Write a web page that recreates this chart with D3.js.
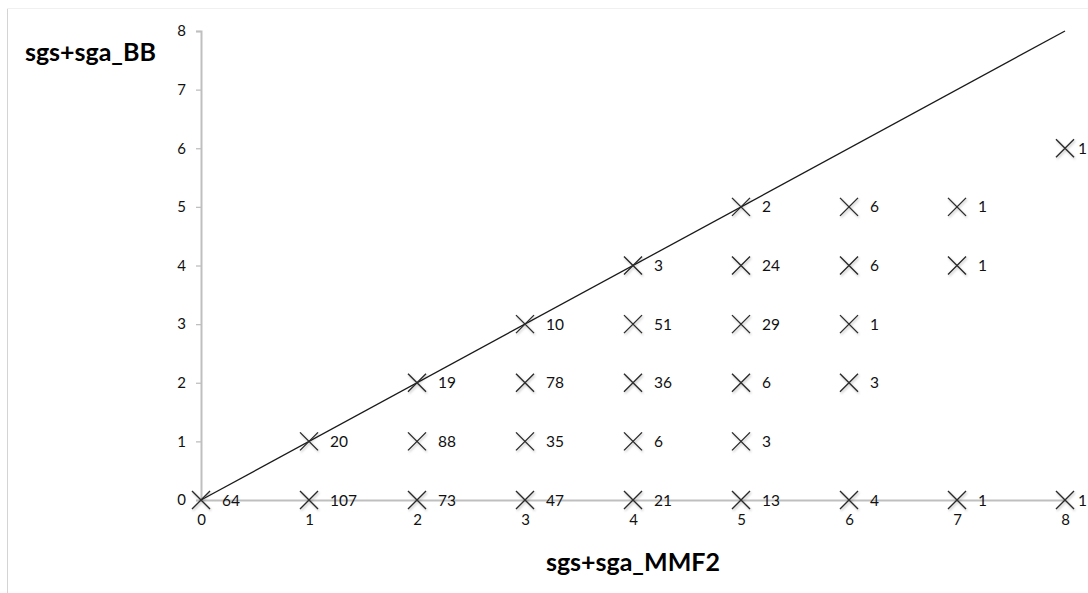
<!DOCTYPE html>
<html><head><meta charset="utf-8">
<script src="https://cdn.jsdelivr.net/npm/d3@7"></script>
<style>body{margin:0;background:#fff}svg{display:block}text{font-family:Lato,"Open Sans",sans-serif}</style>
</head><body><svg id="c" width="1088" height="593"></svg>
<script>
const xVals = [0,1,2,3,4,5,6,7,8, 1,2,3,4,5, 2,3,4,5,6, 3,4,5,6, 4,5,6,7, 5,6,7, 8];
const yVals = [0,0,0,0,0,0,0,0,0, 1,1,1,1,1, 2,2,2,2,2, 3,3,3,3, 4,4,4,4, 5,5,5, 6];
const counts = [64,107,73,47,21,13,4,1,1, 20,88,35,6,3, 19,78,36,6,3, 10,51,29,1, 3,24,6,1, 2,6,1, 1];
const xTicks = [0,1,2,3,4,5,6,7,8];
const yTicks = [0,1,2,3,4,5,6,7,8];
const xTitle = "sgs+sga_MMF2";
const yTitle = "sgs+sga_BB";

const svg = d3.select("#c");
const x = d3.scaleLinear().domain([0,8]).range([201,1065]);
const y = d3.scaleLinear().domain([0,8]).range([500,31]);

// frame
svg.append("line").attr("x1",7.5).attr("x2",7.5).attr("y1",8).attr("y2",593).attr("stroke","#d4d4d4").attr("stroke-width",1);
svg.append("line").attr("x1",7).attr("x2",1088).attr("y1",8.5).attr("y2",8.5).attr("stroke","#f0f0f0").attr("stroke-width",1);

// y axis
const ya = svg.append("g").attr("transform","translate(201,0)")
  .call(d3.axisLeft(y).tickValues(yTicks).tickSize(5).tickPadding(10).tickFormat(d3.format("d")));
ya.select(".domain").attr("stroke","#bfbfbf").attr("stroke-width",2);
ya.selectAll(".tick line").attr("stroke","#bfbfbf").attr("stroke-width",1.3);
ya.selectAll(".tick text").attr("font-size",15).attr("fill","#111");

// x axis
const xa = svg.append("g").attr("transform","translate(0,500)")
  .call(d3.axisBottom(x).tickValues(xTicks).tickSize(0).tickPadding(14).tickFormat(d3.format("d")));
xa.select(".domain").attr("stroke","#bfbfbf").attr("stroke-width",2);
xa.selectAll(".tick text").attr("font-size",15).attr("fill","#111");

// diagonal
svg.append("line").attr("x1",x(0)).attr("y1",y(0)).attr("x2",x(8)).attr("y2",y(8))
  .attr("stroke","#1a1a1a").attr("stroke-width",1.3);

const defs = svg.append("defs");
const f = defs.append("filter").attr("id","sh").attr("x","-50%").attr("y","-50%").attr("width","200%").attr("height","200%");
f.append("feDropShadow").attr("dx",1).attr("dy",1.5).attr("stdDeviation",1.2).attr("flood-color","#000").attr("flood-opacity",0.25);

const pts = counts.map((c,i)=>({x:xVals[i],y:yVals[i],c}));
const s = 9;
const g = svg.append("g");
pts.forEach(p=>{
  const cx = x(p.x), cy = y(p.y);
  g.append("path").attr("d",`M${cx-s},${cy-s}L${cx+s},${cy+s}M${cx-s},${cy+s}L${cx+s},${cy-s}`)
    .attr("stroke","#2a2a2a").attr("stroke-width",1.4).attr("fill","none").attr("filter","url(#sh)");
  g.append("text").attr("x",cx + (p.x===8?13:21)).attr("y",cy).attr("dy","0.36em")
    .attr("font-size",15.5).attr("fill","#111").text(p.c);
});

svg.append("text").attr("x",633).attr("y",571).attr("text-anchor","middle")
  .attr("font-size",25).attr("font-weight","bold").attr("fill","#000").text(xTitle);
svg.append("text").attr("x",25).attr("y",61)
  .attr("font-size",25).attr("font-weight","bold").attr("fill","#000").text(yTitle);
</script></body></html>
